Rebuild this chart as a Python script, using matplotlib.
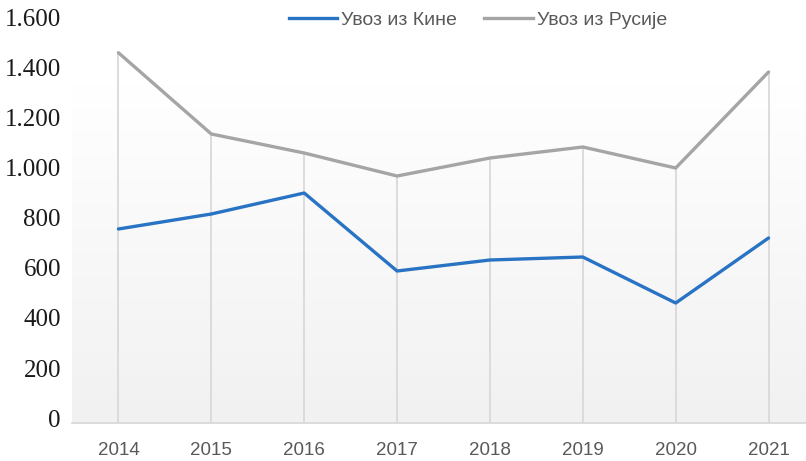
import matplotlib
matplotlib.use("Agg")
import matplotlib.pyplot as plt
from matplotlib.lines import Line2D
import numpy as np

years = [2014, 2015, 2016, 2017, 2018, 2019, 2020, 2021]
china = [756, 816, 900, 588, 632, 644, 460, 720]
russia = [1461, 1136, 1060, 968, 1040, 1084, 1000, 1384]
y_ticks = [0, 200, 400, 600, 800, 1000, 1200, 1400, 1600]
y_labels = ["0", "200", "400", "600", "800", "1.000", "1.200", "1.400", "1.600"]
legend_labels = ["Увоз из Кине", "Увоз из Русије"]

sans = "Liberation Sans"
serif = "Liberation Serif"

blue = "#2873c4"
grey = "#a5a5a5"
text_grey = "#595959"
ymin = -20

fig = plt.figure(figsize=(8.06, 4.61), dpi=100)
ax = fig.add_axes([72 / 806, 1 - 423 / 461, 743 / 806, 405 / 461])
ax.set_xlim(2013.5, 2021.5)
ax.set_ylim(ymin, 1600)

# soft vertical gradient in the plot area, grey at the bottom, white at top
grad = np.linspace(0, 1, 256).reshape(-1, 1)
bottom = np.array([0.945, 0.945, 0.945])
top = np.array([1.0, 1.0, 1.0])
img = bottom + (top - bottom) * np.clip(grad * 1.2, 0, 1)[..., None]
ax.imshow(img, extent=(2013.5, 2021.5, ymin, 1600), origin="lower", aspect="auto", zorder=0)

# drop lines from the upper series
ax.vlines(years, ymin, russia, color="#d9d9d9", lw=1.3, zorder=1)

ax.plot(years, china, color=blue, lw=2.4, zorder=3, solid_capstyle="round")
ax.plot(years, russia, color=grey, lw=2.4, zorder=3, solid_capstyle="round")

for s in ["top", "right", "left"]:
    ax.spines[s].set_visible(False)
ax.spines["bottom"].set_color("#d9d9d9")
ax.spines["bottom"].set_linewidth(1.3)

ax.set_xticks(years)
ax.set_xticklabels([str(y) for y in years], fontfamily=sans, fontsize=13.5, color=text_grey)
ax.set_yticks(y_ticks)
ax.set_yticklabels(y_labels, fontfamily=serif, fontsize=18, color="#1a1a1a")
ax.tick_params(axis="x", length=0, pad=14)
ax.tick_params(axis="y", length=0, pad=8)

handles = [Line2D([], [], color=blue, lw=2.4), Line2D([], [], color=grey, lw=2.4)]
fig.legend(handles, legend_labels, loc="center", bbox_to_anchor=(478 / 806, 1 - 20 / 461),
           ncol=2, frameon=False, handlelength=2.5, handletextpad=0.2, columnspacing=1.4,
           prop={"family": sans, "size": 14}, labelcolor=text_grey)

fig.savefig("out.png", dpi=100)
